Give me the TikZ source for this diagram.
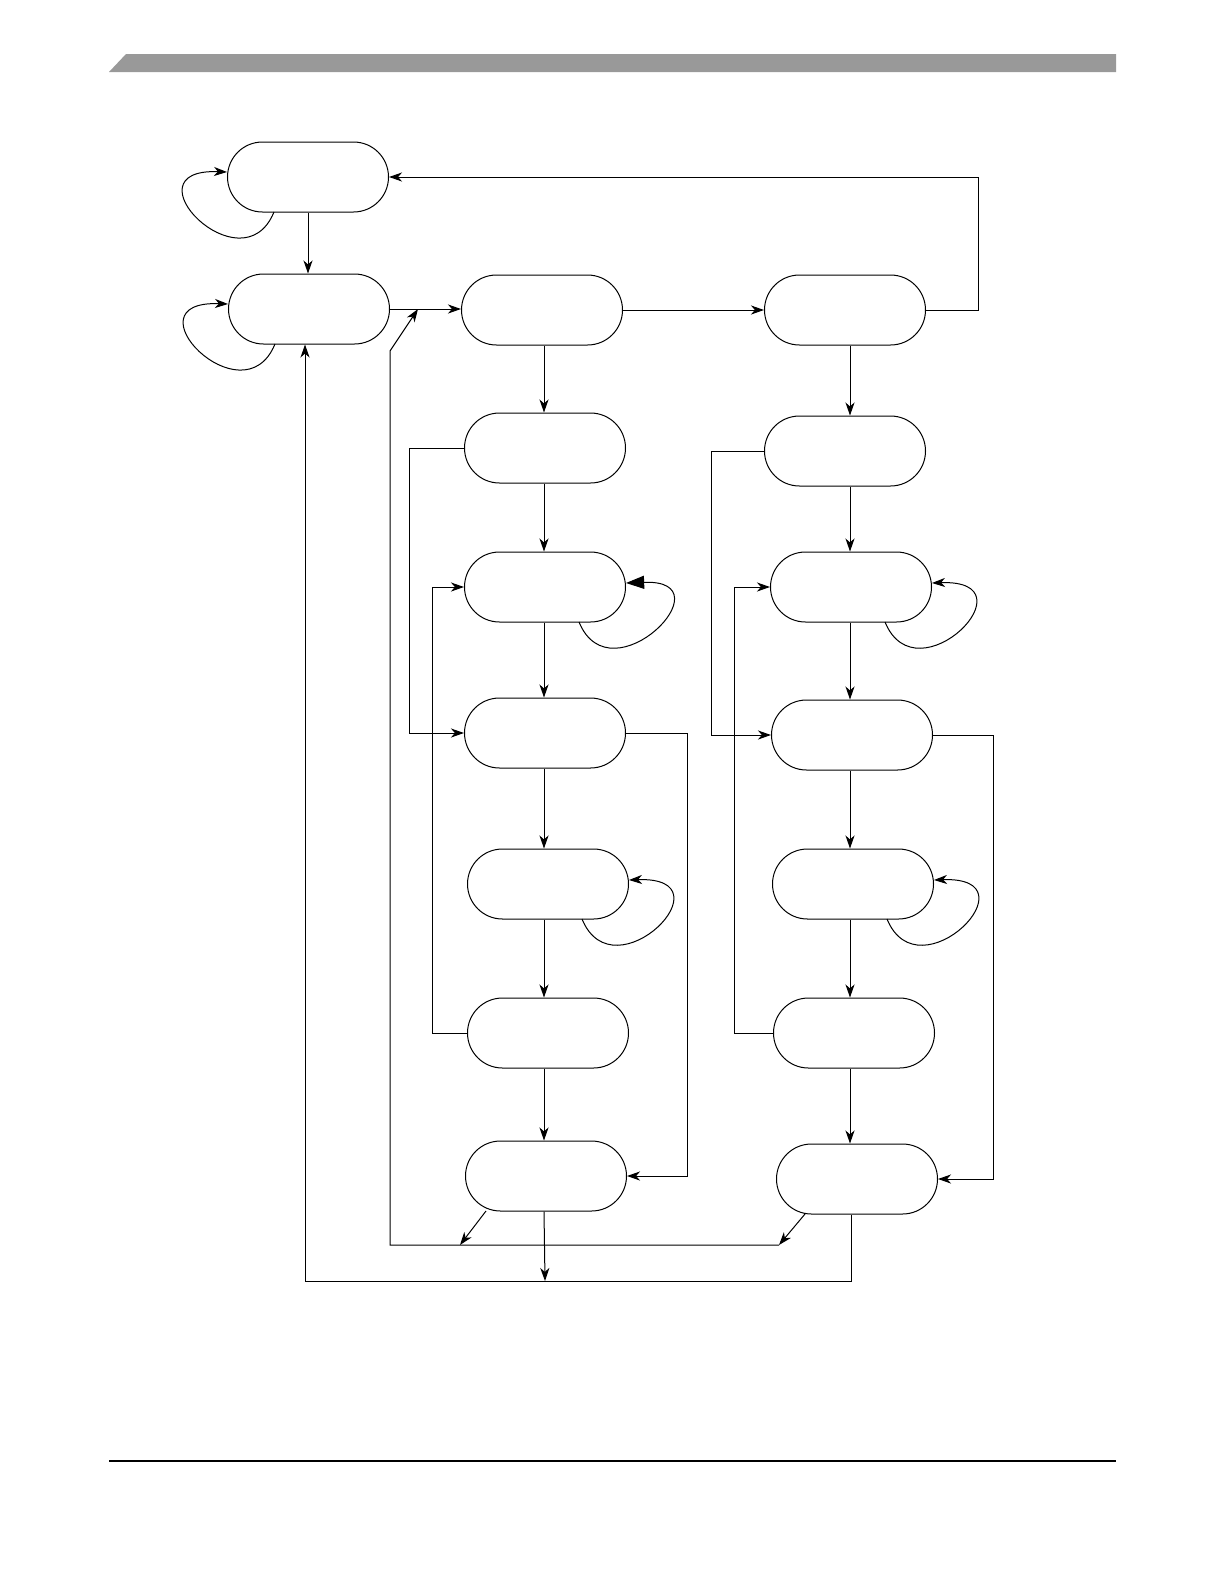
\documentclass[tikz,border=0pt]{standalone}
\usepackage{tikz}
\usetikzlibrary{arrows.meta,calc}
\usepackage{xcolor}
\definecolor{headergray}{HTML}{999999}
\tikzset{
  state/.style={draw=black,rounded corners=17.5bp,minimum width=80.5bp,
    minimum height=35bp,inner sep=0pt,line width=0.5bp},
  arrow/.style={-{Stealth[length=2.3mm,width=1.6mm,inset=0.7mm]},line width=0.5bp},
  looptip/.style={-{Triangle[length=3.2mm,width=2.3mm]},line width=0.5bp}
}
\begin{document}
\begin{tikzpicture}[x=0.5bp,y=-0.5bp]
  \useasboundingbox (0,0) rectangle (1224,1584);
  % header bar and footer rule
  \fill[headergray] (109,72) -- (126,54) -- (1116,54) -- (1116,72) -- cycle;
  \draw[line width=0.8bp] (109,1461) -- (1116,1461);

  % states
  \node[state] (reset) at (308,177) {};
  \node[state] (idle) at (309,309) {};
  \node[state] (seldr) at (542,310) {};
  \node[state] (capdr) at (545,448) {};
  \node[state] (shiftdr) at (545,587) {};
  \node[state] (exitadr) at (545,733) {};
  \node[state] (pausedr) at (548,884) {};
  \node[state] (exitbdr) at (548,1033) {};
  \node[state] (updatedr) at (546,1176) {};
  \node[state] (selir) at (845,310) {};
  \node[state] (capir) at (845,451) {};
  \node[state] (shiftir) at (851,587) {};
  \node[state] (exitair) at (852,735) {};
  \node[state] (pauseir) at (853,884) {};
  \node[state] (exitbir) at (854,1033) {};
  \node[state] (updateir) at (857,1179) {};
  \coordinate (drcol) at (544,0);
  \coordinate (ircol) at (850,0);

  % main flow
  \draw[arrow] (reset.south) -- (reset.south |- idle.north);
  \draw[arrow] (idle.east) -- (idle.east -| seldr.west);
  \draw[arrow] (seldr.east) -- (seldr.east -| selir.west);
  \draw[arrow] (selir.east) -- ++(52,0) |- (reset.east);
  \foreach \a/\b in {seldr/capdr,capdr/shiftdr,shiftdr/exitadr,exitadr/pausedr,
    pausedr/exitbdr,exitbdr/updatedr}
    \draw[arrow] (\a.south -| drcol) -- (\b.north -| drcol);
  \foreach \a/\b in {selir/capir,capir/shiftir,shiftir/exitair,
    exitair/pauseir,pauseir/exitbir,exitbir/updateir}
    \draw[arrow] (\a.south -| ircol) -- (\b.north -| ircol);

  % side branches
  \draw[arrow] (capdr.west) -- ++(-55,0) |- (exitadr.west);
  \draw[arrow] (exitbdr.west) -- ++(-35,0) |- (shiftdr.west);
  \draw[arrow] (exitadr.east) -- ++(61,0) |- (updatedr.east);
  \draw[arrow] (capir.west) -- ++(-53,0) |- (exitair.west);
  \draw[arrow] (exitbir.west) -- ++(-39,0) |- (shiftir.west);
  \draw[arrow] (exitair.east) -- ++(60,0) |- (updateir.east);

  % self loops
  \foreach \n in {reset,idle}
    \draw[arrow] ($(\n)+(-34,35)$) .. controls +(-32,78) and +(-104,-4) .. ($(\n.west)+(0,-5)$);
  \foreach \n in {pausedr,shiftir,pauseir}
    \draw[arrow] ($(\n)+(34,35)$) .. controls +(32,78) and +(104,-4) .. ($(\n.east)+(0,-4)$);
  \draw[looptip] ($(shiftdr)+(34,35)$) .. controls +(32,78) and +(104,-4) .. ($(shiftdr.east)+(0,-4)$);

  % return paths
  \coordinate (drjoin) at (460,1245);
  \coordinate (irjoin) at (779,1245);
  \coordinate (selbend) at ($(idle.east)+(0,42)$);
  \coordinate (seljoin) at ($(idle.east)+(28,0)$);
  \coordinate (bus) at (545,1281);
  \draw[arrow] ($(updatedr)+(-60,35)$) -- (drjoin);
  \draw[arrow] ($(updateir)+(-52,35)$) -- (irjoin);
  \draw[arrow] (irjoin) -| (selbend) -- (seljoin);
  \draw[arrow] (updatedr.south -| drcol) -- (bus);
  \draw[arrow] ([xshift=-3]updateir.south) |- ([xshift=-2]idle.south |- bus) -- ([xshift=-2]idle.south);
\end{tikzpicture}
\end{document}
